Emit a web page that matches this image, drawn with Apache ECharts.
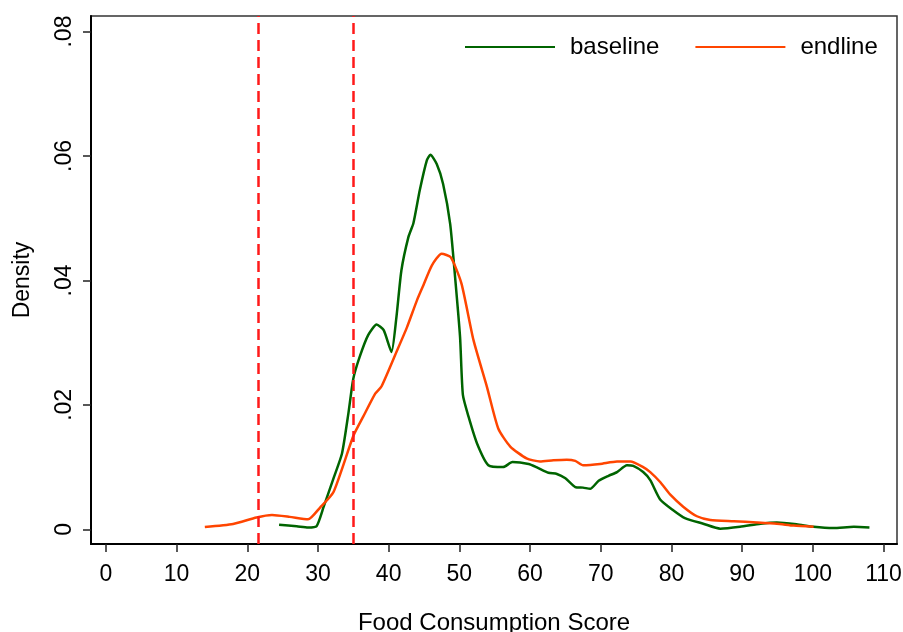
<!DOCTYPE html>
<html>
<head>
<meta charset="utf-8">
<script src="https://cdn.jsdelivr.net/npm/echarts@6/dist/echarts.min.js"></script>
<style>
html,body{margin:0;padding:0;background:#fff;}
#chart{width:903px;height:632px;}
</style>
</head>
<body>
<div id="chart"></div>
<script>
// Baseline density (x = Food Consumption Score, y = density)
const baselineX = [24.5, 27.0, 28.6, 29.8, 30.8, 32.2, 33.4, 34.3, 35.0, 35.9, 37.1, 38.3, 39.3, 40.4, 41.1, 41.8, 42.8, 43.5, 44.4, 45.4, 45.9, 46.8, 47.7, 48.7, 49.4, 50.1, 50.5, 51.3, 52.5, 54.1, 56.2, 57.5, 59.8, 60.9, 62.6, 63.8, 65.0, 66.4, 67.5, 68.5, 69.7, 71.1, 72.3, 73.7, 74.6, 76.0, 77.0, 78.4, 80.2, 81.9, 84.5, 86.9, 89.7, 92.6, 94.9, 97.7, 100.1, 102.9, 105.8, 108.0];
const baselineY = [0.00074, 0.0005, 0.0003, 0.0005, 0.0036, 0.0082, 0.0122, 0.0186, 0.0242, 0.0277, 0.0312, 0.0329, 0.0320, 0.0285, 0.0341, 0.0416, 0.0470, 0.0492, 0.0545, 0.0593, 0.0602, 0.0587, 0.0555, 0.0491, 0.0405, 0.0309, 0.0216, 0.0181, 0.0138, 0.0103, 0.0100, 0.0108, 0.0105, 0.0100, 0.0091, 0.0089, 0.0082, 0.0068, 0.0067, 0.0065, 0.0078, 0.0086, 0.0092, 0.0103, 0.0102, 0.0092, 0.0079, 0.0048, 0.0031, 0.0018, 0.0009, 0.0001, 0.0004, 0.0009, 0.0011, 0.0008, 0.0004, 0.0002, 0.0004, 0.0003];
// Endline density
const endlineX = [14.0, 18.0, 21.3, 23.5, 26.0, 28.6, 30.3, 32.2, 35.0, 36.4, 38.1, 39.0, 41.1, 42.6, 44.0, 44.9, 46.1, 47.5, 48.8, 50.3, 52.0, 53.9, 55.5, 57.2, 59.5, 61.4, 63.3, 65.2, 66.4, 67.5, 69.9, 72.3, 74.2, 76.0, 77.0, 78.4, 79.8, 81.7, 83.6, 85.5, 88.8, 92.1, 94.9, 97.3, 100.1];
const endlineY = [0.00037, 0.00085, 0.0019, 0.0023, 0.0020, 0.0016, 0.0035, 0.0060, 0.0150, 0.0181, 0.0218, 0.0230, 0.0285, 0.0325, 0.0368, 0.0392, 0.0424, 0.0443, 0.0437, 0.0395, 0.0304, 0.0229, 0.0162, 0.0133, 0.0114, 0.0109, 0.0111, 0.0112, 0.0110, 0.0103, 0.0105, 0.0109, 0.0109, 0.0100, 0.0092, 0.0076, 0.0056, 0.0036, 0.0021, 0.0015, 0.0013, 0.0011, 0.0009, 0.0006, 0.0004];
// Reference cut-off lines
const cutoffs = [21.5, 35];
// Tick labels
const xTicks = [0, 10, 20, 30, 40, 50, 60, 70, 80, 90, 100, 110];
const yTicks = [0, 0.02, 0.04, 0.06, 0.08];
const seriesNames = ['baseline', 'endline'];

const zip = (xs, ys) => xs.map((x, i) => [x, ys[i]]);
const FONT = 'Liberation Sans, Arial, sans-serif';

const chart = echarts.init(document.getElementById('chart'), null, {renderer: 'canvas'});
chart.setOption({
  animation: false,
  backgroundColor: '#fff',
  textStyle: {fontFamily: FONT, color: '#000'},
  grid: {left: 91, top: 16, right: 6, bottom: 88, show: true, borderColor: '#333', borderWidth: 1.5, containLabel: false, outerBoundsMode: 'none'},
  legend: {
    left: 465, top: 35, padding: 0,
    icon: 'rect', itemWidth: 90, itemHeight: 2, itemGap: 36,
    textStyle: {fontFamily: FONT, fontSize: 24, color: '#000', padding: [0, 0, 0, 10]},
    data: seriesNames
  },
  xAxis: {
    type: 'value', min: -2.1, max: 111.9,
    name: 'Food Consumption Score', nameLocation: 'middle', nameGap: 67,
    nameTextStyle: {fontFamily: FONT, fontSize: 24, color: '#000'},
    splitLine: {show: false},
    axisLine: {show: true, onZero: false, lineStyle: {color: '#000', width: 2}},
    axisTick: {show: true, length: 8, customValues: xTicks, lineStyle: {color: '#222', width: 1.5}},
    axisLabel: {customValues: xTicks, fontSize: 23, color: '#000', margin: 19, fontFamily: FONT}
  },
  yAxis: {
    type: 'value', min: -0.00236, max: 0.0825,
    name: 'Density', nameLocation: 'middle', nameGap: 57,
    nameTextStyle: {fontFamily: FONT, fontSize: 23, color: '#000'},
    splitLine: {show: false},
    axisLine: {show: true, onZero: false, lineStyle: {color: '#000', width: 2}},
    axisTick: {show: true, length: 8, customValues: yTicks, lineStyle: {color: '#222', width: 1.5}},
    axisLabel: {
      customValues: yTicks, rotate: 90, fontSize: 23, color: '#000', margin: 15, fontFamily: FONT,
      formatter: v => (v === 0 ? '0' : String(Number(v.toFixed(2))).replace(/^0/, ''))
    }
  },
  series: [
    {
      name: seriesNames[0], type: 'line', showSymbol: false, smooth: 0.2,
      data: zip(baselineX, baselineY),
      color: '#006400', lineStyle: {color: '#006400', width: 2.5},
      markLine: {
        silent: true, symbol: 'none', label: {show: false},
        lineStyle: {color: '#FF1A1A', width: 2.5, type: [11, 6]},
        data: cutoffs.map(v => ({xAxis: v}))
      }
    },
    {
      name: seriesNames[1], type: 'line', showSymbol: false, smooth: 0.2,
      data: zip(endlineX, endlineY),
      color: '#FF4500', lineStyle: {color: '#FF4500', width: 2.5}
    }
  ]
});
</script>
</body>
</html>
